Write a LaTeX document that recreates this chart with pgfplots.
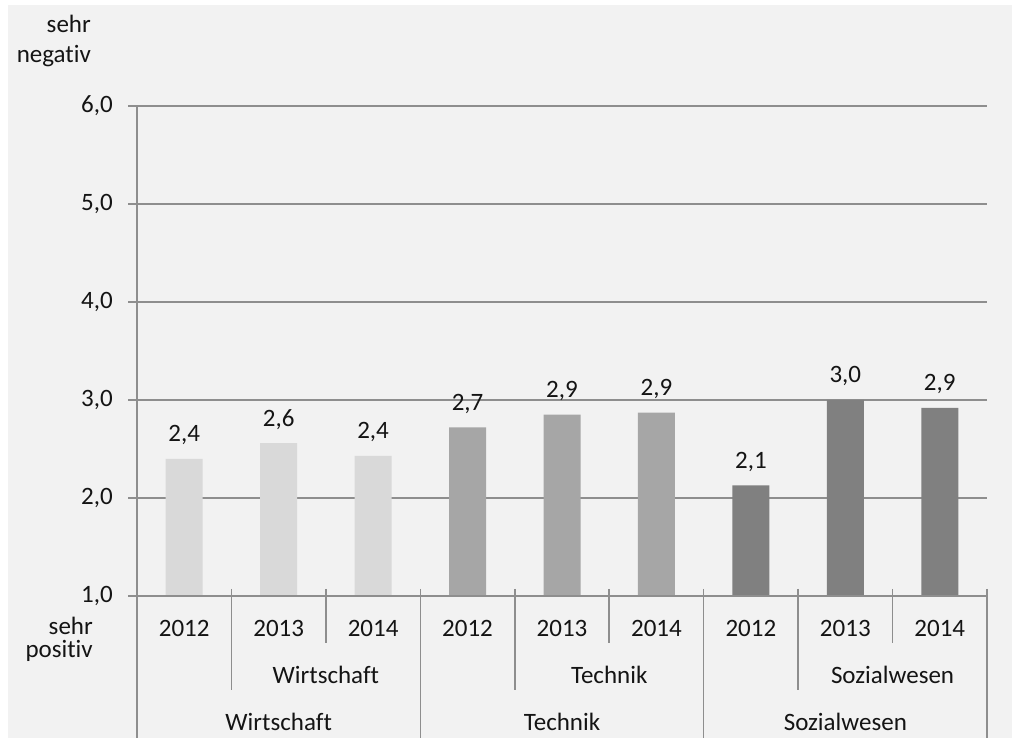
\documentclass[border=0pt]{standalone}
\usepackage{pgfplots}
\pgfplotsset{compat=1.18}
\usepackage{fontspec}
\setmainfont{Carlito}[Ligatures=NoCommon]
\definecolor{bg}{HTML}{F2F2F2}
\definecolor{gridc}{HTML}{8E8E8E}
\definecolor{cW}{HTML}{D9D9D9}
\definecolor{cT}{HTML}{A6A6A6}
\definecolor{cS}{HTML}{808080}
\definecolor{txt}{HTML}{141414}
\begin{document}
\begin{tikzpicture}[x=1pt,y=1pt,font=\fontsize{25}{29}\selectfont,text=txt]
\useasboundingbox (0,0) rectangle (1012,738);
\fill[white] (0,0) rectangle (1012,738);
\fill[bg] (8,0) rectangle (1012,733);
\node[anchor=base east, inner sep=0pt] at (91,705) {sehr};
\node[anchor=base east, inner sep=0pt] at (91,675) {negativ};
\node[anchor=base east, inner sep=0pt] at (93,103) {sehr};
\node[anchor=base east, inner sep=0pt] at (93,80) {positiv};
\begin{axis}[
  at={(137pt,142pt)}, anchor=south west,
  scale only axis, width=850pt, height=490pt,
  xmin=-0.5, xmax=8.5, ymin=1, ymax=6,
  clip=false,
  axis line style={draw=none},
  ytick={1,2,3,4,5,6},
  ytick pos=left,
  xtick=\empty,
  ymajorgrids,
  grid style={gridc, line width=1.6pt},
  major tick length=9pt,
  ytick style={gridc, line width=1.6pt},
  tick align=outside,
  /pgf/number format/fixed,
  /pgf/number format/fixed zerofill,
  /pgf/number format/precision=1,
  /pgf/number format/use comma,
  /pgf/number format/assume math mode=true,
  yticklabel style={anchor=east, inner sep=0pt, xshift=-15pt},
  ybar, bar width=37pt, bar shift=0pt,
  nodes near coords,
  every node near coord/.append style={anchor=base, yshift=17pt, inner sep=0pt, text=txt},
]
\addplot[fill=cW, draw=none] coordinates {(0,2.40) (1,2.56) (2,2.43)};
\addplot[fill=cT, draw=none] coordinates {(3,2.72) (4,2.85) (5,2.87)};
\addplot[fill=cS, draw=none] coordinates {(6,2.13) (7,3.00) (8,2.92)};
% axes lines
\draw[gridc, line width=1.6pt] (axis cs:-0.5,6) -- (axis cs:-0.5,1) -- ++(0pt,-142pt);
\draw[gridc, line width=1.6pt] (axis cs:-0.5,1) -- (axis cs:8.5,1);
% category separators
\pgfplotsinvokeforeach{2.5,5.5,8.5}{
  \draw[gridc, line width=1.6pt] (axis cs:#1,1) ++(0pt,7pt) -- ++(0pt,-149pt);
}
\pgfplotsinvokeforeach{0.5,3.5,6.5}{
  \draw[gridc, line width=1.6pt] (axis cs:#1,1) ++(0pt,7pt) -- ++(0pt,-101pt);
}
\pgfplotsinvokeforeach{1.5,4.5,7.5}{
  \draw[gridc, line width=1.6pt] (axis cs:#1,1) ++(0pt,7pt) -- ++(0pt,-54pt);
}
% year labels
\pgfplotsinvokeforeach{0,3,6}{ \node at (axis cs:#1,1) [yshift=-32pt] {2012}; }
\pgfplotsinvokeforeach{1,4,7}{ \node at (axis cs:#1,1) [yshift=-32pt] {2013}; }
\pgfplotsinvokeforeach{2,5,8}{ \node at (axis cs:#1,1) [yshift=-32pt] {2014}; }
% group labels
\node at (axis cs:1.5,1) [yshift=-79pt] {Wirtschaft};
\node at (axis cs:4.5,1) [yshift=-79pt] {Technik};
\node at (axis cs:7.5,1) [yshift=-79pt] {Sozialwesen};
\node at (axis cs:1,1) [yshift=-126pt] {Wirtschaft};
\node at (axis cs:4,1) [yshift=-126pt] {Technik};
\node at (axis cs:7,1) [yshift=-126pt] {Sozialwesen};
\end{axis}
\end{tikzpicture}
\end{document}
